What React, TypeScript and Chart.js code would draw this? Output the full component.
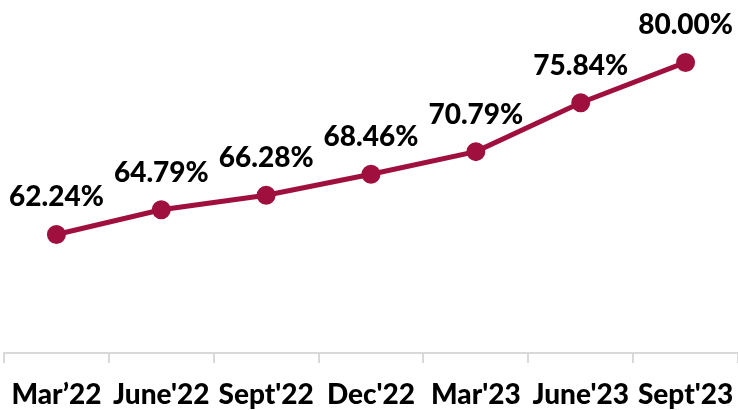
import React, { useEffect, useRef } from "react";
import { Chart, registerables } from "chart.js";

Chart.register(...registerables);

const categories = ["Mar\u201922", "June'22", "Sept'22", "Dec'22", "Mar'23", "June'23", "Sept'23"];
const values = [62.24, 64.79, 66.28, 68.46, 70.79, 75.84, 80.0];
const labels = values.map((v) => v.toFixed(2) + "%");

const COLOR = "#A0103F";
const FONT = "Lato";

const labelPlugin = {
  id: "pointLabels",
  afterDatasetsDraw(chart: any) {
    const ctx = chart.ctx;
    const meta = chart.getDatasetMeta(0);
    ctx.save();
    ctx.font = `900 28px ${FONT}`;
    ctx.fillStyle = "#000";
    ctx.textAlign = "center";
    ctx.textBaseline = "middle";
    meta.data.forEach((pt: any, i: number) => {
      ctx.fillText(labels[i], pt.x, pt.y - 37);
    });
    ctx.restore();
  },
};

export default function App() {
  const ref = useRef<HTMLCanvasElement>(null);
  useEffect(() => {
    const chart = new Chart(ref.current!, {
      type: "line",
      data: {
        labels: categories,
        datasets: [
          {
            data: values,
            borderColor: COLOR,
            backgroundColor: COLOR,
            borderWidth: 5,
            pointRadius: 7,
            pointBackgroundColor: COLOR,
            pointBorderColor: COLOR,
            tension: 0,
          },
        ],
      },
      options: {
        responsive: false,
        animation: false,
        layout: { autoPadding: false, padding: { left: 4, right: 0, top: 14, bottom: 0 } },
        plugins: { legend: { display: false }, tooltip: { enabled: false } },
        scales: {
          x: {
            offset: true,
            grid: {
              offset: true,
              drawOnChartArea: false,
              drawTicks: true,
              tickLength: 10,
              color: "#D9D9D9",
              lineWidth: 2,
            },
            border: { color: "#D9D9D9", width: 2 },
            ticks: {
              color: "#000",
              font: { family: FONT, size: 28, weight: "900" },
              padding: 15,
              maxRotation: 0,
              autoSkip: false,
            },
            afterFit: (s: any) => {
              s.height = 57;
              s.paddingLeft = 0;
              s.paddingRight = 0;
            },
          },
          y: { display: false, min: 50, max: 85 },
        },
      },
      plugins: [labelPlugin],
    });
    return () => chart.destroy();
  }, []);
  return (
    <div style={{ position: "fixed", left: 0, top: 0, width: 738, height: 410, background: "#fff" }}>
      <canvas ref={ref} width={738} height={410} />
    </div>
  );
}
